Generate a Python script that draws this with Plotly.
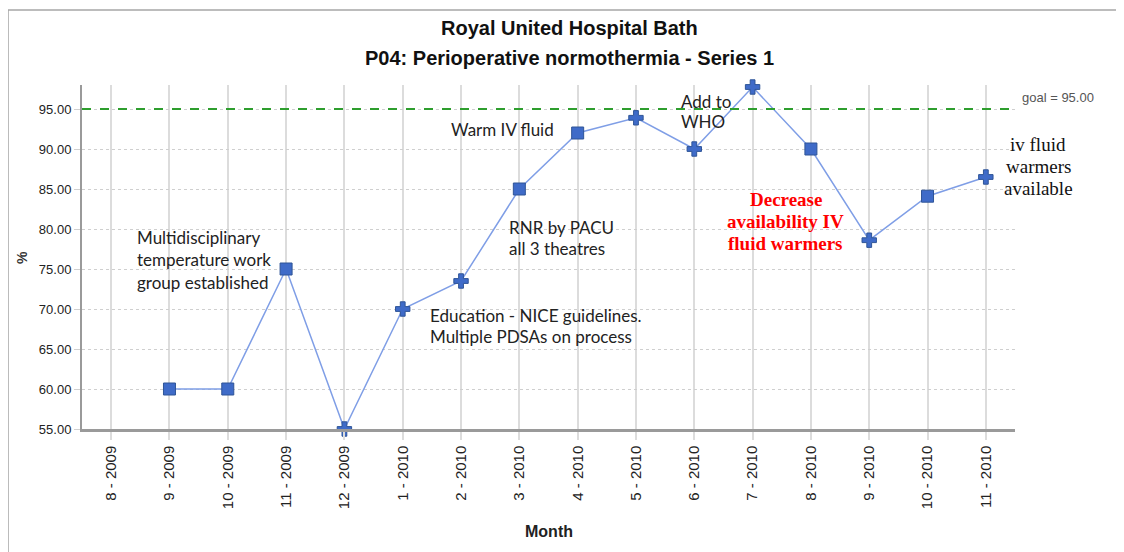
import plotly.graph_objects as go

months = ["8 - 2009", "9 - 2009", "10 - 2009", "11 - 2009", "12 - 2009",
          "1 - 2010", "2 - 2010", "3 - 2010", "4 - 2010", "5 - 2010",
          "6 - 2010", "7 - 2010", "8 - 2010", "9 - 2010", "10 - 2010", "11 - 2010"]
values = [None, 60.0, 60.0, 75.0, 55.0, 70.0, 73.5, 85.0, 92.0, 93.9,
          90.0, 97.75, 90.0, 78.6, 84.1, 86.5]
symbols = ["square", "square", "square", "square", "cross", "cross", "cross", "square",
           "square", "cross", "cross", "cross", "square", "cross", "square", "cross"]
goal = 95.0
y_ticks = [55, 60, 65, 70, 75, 80, 85, 90, 95]

NARROW = "Liberation Sans Narrow, Arial Narrow, Liberation Sans, Arial"
BODY = "Lato, Carlito, Open Sans, sans-serif"
SERIF = "Liberation Serif, DejaVu Serif, serif"

fig = go.Figure()
fig.add_trace(go.Scatter(
    x=months, y=values, mode="lines+markers",
    line=dict(color="#7f9ee6", width=1.5),
    marker=dict(symbol=symbols, size=12,
                color="#3f6bc8", line=dict(color="#2f5597", width=1)),
    cliponaxis=False, hoverinfo="skip", showlegend=False,
))

# goal line
fig.add_shape(type="line", xref="paper", x0=0, x1=1, yref="y", y0=goal, y1=goal,
              line=dict(color="#2e9e2e", width=2, dash="dash"), layer="above")
fig.add_annotation(x=1.0054, y=goal + 1.5, xref="paper", yref="y", text=f"goal = {goal:.2f}",
                   showarrow=False, xanchor="left", yanchor="middle",
                   font=dict(family=NARROW, size=13, color="#555555"))

# outer frame
fig.add_shape(type="rect", xref="paper", yref="paper", x0=-0.0793, x1=1.1093,
              y0=-0.36, y1=1.218, line=dict(color="#a6a6a6", width=1.5), layer="below")

def note(lines, x, ys, anchor="left", font=None, xref="x"):
    for t, yy in zip(lines, ys):
        fig.add_annotation(x=x, y=yy, xref=xref, yref="y", text=t, showarrow=False,
                           xanchor=anchor, yanchor="middle", font=font)

body_font = dict(family=BODY, size=17, color="#222222")
note(["Multidisciplinary", "temperature work", "group established"], 0.41,
     [78.9, 76.15, 73.3], font=body_font)
note(["Education - NICE guidelines.", "Multiple PDSAs on process"], 5.44,
     [69.25, 66.6], font=body_font)
note(["RNR by PACU", "all 3 theatres"], 6.78, [80.25, 77.6], font=body_font)
note(["Warm IV fluid"], 5.8, [92.4], font=body_font)
note(["Add to", "WHO"], 9.74, [96.0, 93.4], font=body_font)
note(["<b>Decrease</b>", "<b>availability IV</b>", "<b>fluid warmers</b>"], 11.57,
     [83.75, 81.0, 78.25], anchor="center", font=dict(family=SERIF, size=19, color="#ff0000"))
note(["iv fluid", "warmers", "available"], 1.0247, [90.6, 87.85, 85.1], anchor="center",
     font=dict(family=SERIF, size=19, color="#111111"), xref="paper")

# titles
fig.add_annotation(x=0.523, y=1.166, xref="paper", yref="paper", showarrow=False,
                   text="<b>Royal United Hospital Bath</b>", xanchor="center", yanchor="middle",
                   font=dict(family=NARROW, size=20, color="#111111"))
fig.add_annotation(x=0.523, y=1.078, xref="paper", yref="paper", showarrow=False,
                   text="<b>P04: Perioperative normothermia - Series 1</b>", xanchor="center",
                   yanchor="middle", font=dict(family=NARROW, size=20, color="#111111"))
fig.add_annotation(x=0.5, y=-0.299, xref="paper", yref="paper", showarrow=False,
                   text="<b>Month</b>", xanchor="center", yanchor="middle",
                   font=dict(family=NARROW, size=16, color="#222222"))
fig.add_annotation(x=-0.0643, y=0.497, xref="paper", yref="paper", showarrow=False,
                   text="<b>%</b>", textangle=-90, xanchor="center", yanchor="middle",
                   font=dict(family=NARROW, size=14, color="#333333"))

fig.update_xaxes(type="category", categoryorder="array", categoryarray=months,
                 range=[-0.5, 15.5], tickangle=-90,
                 tickfont=dict(family="Liberation Sans, Arial", size=15, color="#222222"),
                 showgrid=True, gridcolor="#dcdcdc", gridwidth=2,
                 showline=True, linecolor="#9a9a9a", linewidth=2.5,
                 ticks="outside", ticklen=8, tickcolor="#dcdcdc", tickwidth=2,
                 zeroline=False, fixedrange=True)
fig.update_yaxes(range=[55, 98], tickvals=y_ticks, tickformat=".2f",
                 tickfont=dict(family=NARROW, size=13, color="#222222"),
                 showgrid=True, gridcolor="#cfcfcf", gridwidth=1, griddash="dot",
                 showline=True, linecolor="#9a9a9a", linewidth=2,
                 ticks="outside", ticklen=6, tickcolor="#d0d0d0", tickwidth=1,
                 zeroline=False, fixedrange=True)

# page body has an 8px default margin; shift the drawing up-left to compensate
fig.update_layout(
    width=1124, height=552,
    margin=dict(l=74, r=117, t=77, b=131),
    paper_bgcolor="white", plot_bgcolor="white",
    showlegend=False,
)

fig.write_html("out.html", config={"displayModeBar": False})
